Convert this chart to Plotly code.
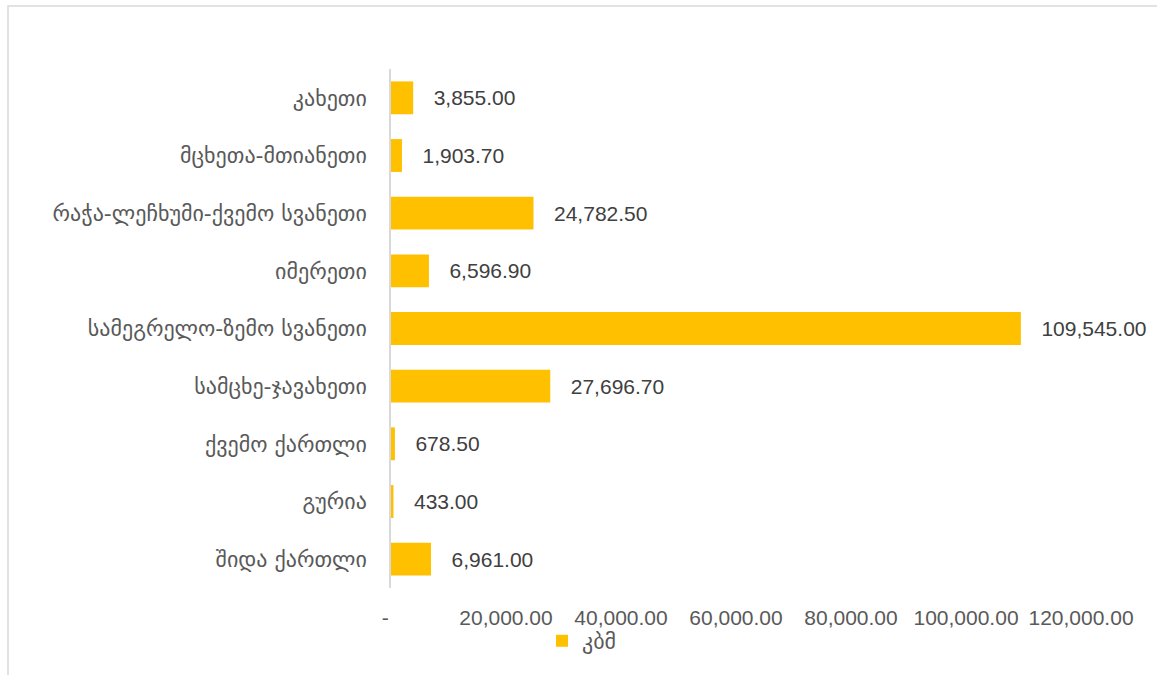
import plotly.graph_objects as go

categories = ["კახეთი", "მცხეთა-მთიანეთი", "რაჭა-ლეჩხუმი-ქვემო სვანეთი", "იმერეთი",
              "სამეგრელო-ზემო სვანეთი", "სამცხე-ჯავახეთი", "ქვემო ქართლი", "გურია", "შიდა ქართლი"]
values = [3855.00, 1903.70, 24782.50, 6596.90, 109545.00, 27696.70, 678.50, 433.00, 6961.00]
series_name = "კბმ"
tick_vals = [0, 20000, 40000, 60000, 80000, 100000, 120000]
tick_text = ["-  ", "20,000.00", "40,000.00", "60,000.00", "80,000.00", "100,000.00", "120,000.00"]

W, H = 1157, 675
L, R, T, B = 391, 1081, 69, 588

fig = go.Figure()
fig.add_trace(go.Bar(
    y=categories, x=values, orientation="h", name=series_name,
    marker=dict(color="#FFC000", line=dict(width=0)),
    texttemplate="   %{x:,.2f}", textposition="outside", cliponaxis=False,
    constraintext="none",
    textfont=dict(family="Liberation Sans, Arial, sans-serif", size=21, color="#404040"),
))

def px2x(px):
    return (px - L) / (R - L)

def px2y(py):
    return (B - py) / (B - T)

fig.update_layout(
    width=W, height=H,
    margin=dict(l=L, r=W - R, t=T, b=H - B, pad=0),
    paper_bgcolor="white", plot_bgcolor="white",
    bargap=0.43,
    showlegend=True,
    legend=dict(orientation="h", x=px2x(582), y=px2y(641), xanchor="center", yanchor="middle",
                font=dict(family="DejaVu Sans, sans-serif", size=22, color="#595959"),
                bgcolor="rgba(0,0,0,0)", itemwidth=30),
    xaxis=dict(range=[0, 120000], tickvals=tick_vals, ticktext=tick_text,
               showgrid=False, zeroline=False, showline=False,
               ticks="outside", ticklen=11, tickcolor="rgba(0,0,0,0)",
               tickfont=dict(family="Liberation Sans, Arial, sans-serif", size=21, color="#595959")),
    yaxis=dict(autorange="reversed", showgrid=False, zeroline=False,
               showline=True, linecolor="#d9d9d9", linewidth=1.5,
               ticks="outside", ticklen=18, tickcolor="rgba(0,0,0,0)",
               tickfont=dict(family="DejaVu Sans, sans-serif", size=22, color="#595959")),
    shapes=[dict(type="rect", xref="paper", yref="paper",
                 x0=px2x(8), x1=px2x(1175), y0=px2y(700), y1=px2y(6),
                 line=dict(color="#d9d9d9", width=1.5), fillcolor="rgba(0,0,0,0)", layer="below")],
)

fig.write_html("out.html", config={"displayModeBar": False},
               post_script="document.body.style.margin='0';")
